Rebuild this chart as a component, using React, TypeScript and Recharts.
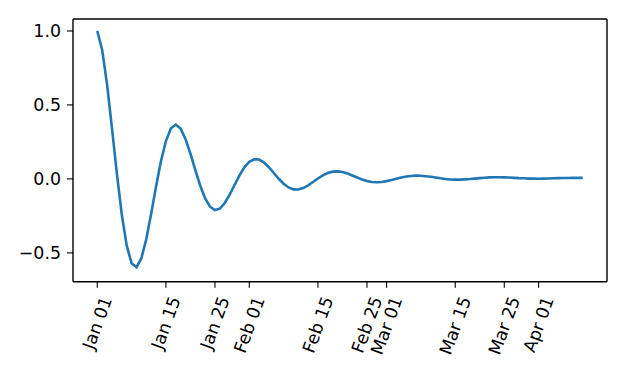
import { LineChart, Line, XAxis, YAxis, ReferenceLine } from 'recharts'

// days since Jan 01, one sample per day
const days = Array.from({ length: 100 }, (_, i) => i)

const values = [
  1.0, 0.872, 0.638, 0.342, 0.035, -0.241, -0.45, -0.571, -0.597, -0.536,
  -0.406, -0.234, -0.049, 0.122, 0.256, 0.34, 0.367, 0.34, 0.269, 0.17,
  0.059, -0.046, -0.132, -0.188, -0.211, -0.201, -0.163, -0.107, -0.041, 0.024,
  0.078, 0.116, 0.133, 0.131, 0.111, 0.079, 0.04, 0.001, -0.033, -0.058,
  -0.071, -0.072, -0.062, -0.044, -0.021, 0.003, 0.024, 0.04, 0.049, 0.051,
  0.047, 0.037, 0.023, 0.009, -0.004, -0.014, -0.021, -0.023, -0.021, -0.015,
  -0.008, 0.001, 0.009, 0.016, 0.02, 0.022, 0.021, 0.018, 0.014, 0.009,
  0.004, -0.001, -0.004, -0.005, -0.005, -0.003, -0.001, 0.002, 0.005, 0.008,
  0.01, 0.011, 0.011, 0.01, 0.009, 0.007, 0.005, 0.004, 0.002, 0.002,
  0.001, 0.002, 0.003, 0.004, 0.005, 0.006, 0.006, 0.007, 0.007, 0.007,
]

const tickDays = [0, 14, 24, 31, 45, 55, 59, 73, 83, 90]
const tickLabels = ['Jan 01', 'Jan 15', 'Jan 25', 'Feb 01', 'Feb 15', 'Feb 25', 'Mar 01', 'Mar 15', 'Mar 25', 'Apr 01']
const yTicks = [-0.5, 0, 0.5, 1.0]

const xDomain = [-4.95, 103.95]
const yDomain = [-0.695, 1.081]

const data = days.map((d, i) => ({ day: d, value: values[i] }))

const FONT = '"DejaVu Sans", sans-serif'
const FS = 17.4

let ctx: CanvasRenderingContext2D | null = null
function textWidth(s: string) {
  if (!ctx) ctx = document.createElement('canvas').getContext('2d')
  if (!ctx) return s.length * FS * 0.55
  ctx.font = `${FS}px "DejaVu Sans"`
  return ctx.measureText(s).width
}

// matplotlib-style rotated label: bbox centred on the tick, top just under the pad
function DateTick({ x, y, payload }: any) {
  const label = tickLabels[tickDays.indexOf(payload.value)] ?? ''
  const a = (70 * Math.PI) / 180
  const w = textWidth(label)
  const h = FS * 1.17
  const cy = y + (w * Math.sin(a) + h * Math.cos(a)) / 2
  return (
    <text
      x={x}
      y={cy}
      textAnchor="middle"
      dominantBaseline="central"
      fontSize={FS}
      fontFamily={FONT}
      fill="#000"
      transform={`rotate(-70, ${x}, ${cy})`}
    >
      {label}
    </text>
  )
}

const fmtY = (v: number) => (v < 0 ? '\u2212' : '') + Math.abs(v).toFixed(1)

export default function App() {
  return (
    <div style={{ position: 'absolute', left: 0, top: 0, width: 625, height: 375, background: '#fff' }}>
      <LineChart width={625} height={375} data={data} margin={{ top: 19, right: 18, bottom: 0, left: 0 }}>
        <XAxis
          dataKey="day"
          type="number"
          domain={xDomain}
          ticks={tickDays}
          interval={0}
          height={93.3}
          tick={<DateTick />}
          tickSize={6}
          tickMargin={6}
          axisLine={{ stroke: '#000', strokeWidth: 1.4 }}
          tickLine={{ stroke: '#000', strokeWidth: 1.1 }}
          allowDataOverflow
        />
        <YAxis
          type="number"
          domain={yDomain}
          ticks={yTicks}
          interval={0}
          width={73}
          tickSize={6}
          tickMargin={6}
          tickFormatter={fmtY}
          tick={{ fontSize: FS, fontFamily: FONT, fill: '#000' }}
          axisLine={{ stroke: '#000', strokeWidth: 1.4 }}
          tickLine={{ stroke: '#000', strokeWidth: 1.1 }}
          allowDataOverflow
        />
        {/* top and right spines */}
        <ReferenceLine y={yDomain[1]} stroke="#000" strokeWidth={1.4} ifOverflow="visible" />
        <ReferenceLine x={xDomain[1]} stroke="#000" strokeWidth={1.4} ifOverflow="visible" />
        <Line
          dataKey="value"
          type="linear"
          stroke="#1f77b4"
          strokeWidth={2.6}
          dot={false}
          isAnimationActive={false}
        />
      </LineChart>
    </div>
  )
}
